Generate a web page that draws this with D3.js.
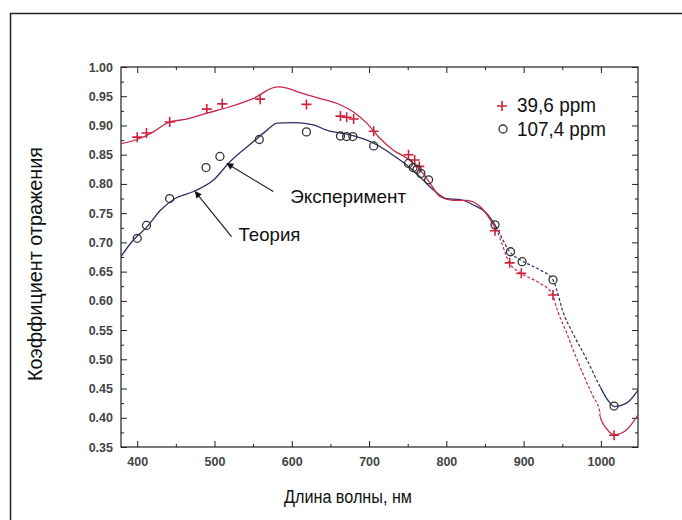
<!DOCTYPE html>
<html>
<head>
<meta charset="utf-8">
<script src="https://cdn.jsdelivr.net/npm/d3@7"></script>
<style>
  body { margin: 0; background: #fff; }
  svg { display: block; font-family: "Liberation Sans", Arial, sans-serif; }
</style>
</head>
<body>
<svg id="chart" width="682" height="520"></svg>
<script>
// Theory curve, 39,6 ppm (red).
const theoryWl39 = [379, 400, 421, 440, 464, 490, 520, 550, 581, 594, 611, 637, 663, 682, 697, 714, 731, 749, 766, 779, 792, 809, 826, 844, 861, 866, 882, 897, 921, 938, 940, 956, 973, 990, 998, 999, 1007, 1018, 1033, 1048];
const theoryR39 = [0.869, 0.876, 0.889, 0.905, 0.911, 0.921, 0.932, 0.946, 0.966, 0.964, 0.956, 0.946, 0.935, 0.921, 0.904, 0.878, 0.858, 0.844, 0.824, 0.801, 0.778, 0.772, 0.772, 0.761, 0.73, 0.718, 0.664, 0.647, 0.630, 0.610, 0.600, 0.544, 0.487, 0.436, 0.413, 0.402, 0.382, 0.371, 0.379, 0.405];

// Theory curve, 107,4 ppm (dark blue).
const theoryWl107 = [379, 395, 413, 430, 449, 473, 499, 520, 550, 568, 581, 602, 628, 645, 675, 697, 714, 731, 749, 766, 783, 800, 818, 835, 852, 863, 882, 900, 921, 938, 943, 950, 964, 982, 999, 1009, 1018, 1033, 1048];
const theoryR107 = [0.676, 0.704, 0.727, 0.755, 0.775, 0.787, 0.807, 0.838, 0.872, 0.892, 0.904, 0.905, 0.901, 0.892, 0.884, 0.875, 0.864, 0.849, 0.832, 0.812, 0.790, 0.775, 0.773, 0.764, 0.750, 0.730, 0.684, 0.667, 0.653, 0.636, 0.618, 0.585, 0.544, 0.499, 0.453, 0.430, 0.419, 0.425, 0.447];

// Experiment points.
const expWl39 = [400, 412, 442, 490, 510, 559, 619, 663, 671, 680, 706, 751, 759, 765, 863, 882, 897, 938, 1017];
const expR39 = [0.880, 0.887, 0.906, 0.928, 0.937, 0.945, 0.936, 0.916, 0.914, 0.911, 0.890, 0.850, 0.841, 0.830, 0.720, 0.665, 0.647, 0.610, 0.370];
const expWl107 = [400, 412, 442, 489, 507, 558, 619, 663, 671, 679, 706, 751, 757, 762, 767, 777, 863, 883, 898, 938, 1017];
const expR107 = [0.707, 0.729, 0.775, 0.828, 0.847, 0.876, 0.889, 0.882, 0.881, 0.881, 0.865, 0.835, 0.828, 0.825, 0.818, 0.807, 0.730, 0.684, 0.667, 0.636, 0.420];

// Ticks and labels.
const xTicks = [400, 500, 600, 700, 800, 900, 1000];
const xMinorTicks = [450, 550, 650, 750, 850, 950];
const yTicks = [0.35, 0.40, 0.45, 0.50, 0.55, 0.60, 0.65, 0.70, 0.75, 0.80, 0.85, 0.90, 0.95, 1.00];
const yMinorTicks = [0.375, 0.425, 0.475, 0.525, 0.575, 0.625, 0.675, 0.725, 0.775, 0.825, 0.875, 0.925, 0.975];
const seriesNames = ["39,6 ppm", "107,4 ppm"];
const xTitle = "Длина волны, нм";
const yTitle = "Коэффициент отражения";

(function () {
  const svg = d3.select("#chart");
  const left = 121, right = 638, top = 67, bottom = 447;

  const x = d3.scaleLinear().domain([379, 1048]).range([left, right]);
  const y = d3.scaleLinear().domain([0.35, 1.0]).range([bottom, top]);

  // Outer frame of the figure.
  svg.append("rect")
    .attr("x", 10.5).attr("y", 13.5)
    .attr("width", 700).attr("height", 600)
    .attr("fill", "none").attr("stroke", "#222").attr("stroke-width", 1.5);

  // Axes, ticks pointing inward on all four sides.
  function styleAxis(g) {
    g.select(".domain").remove();
    g.selectAll("line").attr("stroke", "#222");
    g.selectAll("text")
      .attr("fill", "#444")
      .attr("font-size", 12.5)
      .attr("font-weight", "bold");
  }

  svg.append("g").attr("transform", `translate(0,${bottom})`)
    .call(d3.axisBottom(x).tickValues(xTicks).tickSize(-6).tickSizeOuter(0).tickPadding(10).tickFormat(d3.format("d")))
    .call(styleAxis);
  svg.append("g").attr("transform", `translate(0,${bottom})`)
    .call(d3.axisBottom(x).tickValues(xMinorTicks).tickSize(-3).tickFormat(""))
    .call(styleAxis);
  svg.append("g").attr("transform", `translate(0,${top})`)
    .call(d3.axisTop(x).tickValues(xTicks).tickSize(-6).tickFormat(""))
    .call(styleAxis);
  svg.append("g").attr("transform", `translate(0,${top})`)
    .call(d3.axisTop(x).tickValues(xMinorTicks).tickSize(-3).tickFormat(""))
    .call(styleAxis);

  svg.append("g").attr("transform", `translate(${left},0)`)
    .call(d3.axisLeft(y).tickValues(yTicks).tickSize(-6).tickPadding(8).tickFormat(d3.format(".2f")))
    .call(styleAxis);
  svg.append("g").attr("transform", `translate(${left},0)`)
    .call(d3.axisLeft(y).tickValues(yMinorTicks).tickSize(-3).tickFormat(""))
    .call(styleAxis);
  svg.append("g").attr("transform", `translate(${right},0)`)
    .call(d3.axisRight(y).tickValues(yTicks).tickSize(-6).tickFormat(""))
    .call(styleAxis);
  svg.append("g").attr("transform", `translate(${right},0)`)
    .call(d3.axisRight(y).tickValues(yMinorTicks).tickSize(-3).tickFormat(""))
    .call(styleAxis);

  svg.append("rect")
    .attr("x", left).attr("y", top)
    .attr("width", right - left).attr("height", bottom - top)
    .attr("fill", "none").attr("stroke", "#222").attr("stroke-width", 1.2);

  // Clip regions: solid part and dashed part of the theory curves.
  const defs = svg.append("defs");
  defs.append("clipPath").attr("id", "clip-solid")
    .selectAll("rect")
    .data([[379, 864], [999, 1048]])
    .join("rect")
    .attr("x", (d) => x(d[0])).attr("width", (d) => x(d[1]) - x(d[0]))
    .attr("y", top).attr("height", bottom - top);
  defs.append("clipPath").attr("id", "clip-dash")
    .append("rect")
    .attr("x", x(864)).attr("width", x(999) - x(864))
    .attr("y", top).attr("height", bottom - top);

  const line = d3.line()
    .x((d) => x(d[0]))
    .y((d) => y(d[1]))
    .curve(d3.curveMonotoneX);

  function drawCurve(wl, r, color) {
    const pts = wl.map((w, i) => [w, r[i]]);
    svg.append("path")
      .attr("d", line(pts))
      .attr("fill", "none")
      .attr("stroke", color)
      .attr("stroke-width", 1.3)
      .attr("clip-path", "url(#clip-solid)");
    svg.append("path")
      .attr("d", line(pts))
      .attr("fill", "none")
      .attr("stroke", color)
      .attr("stroke-width", 1.2)
      .attr("stroke-dasharray", "3,2")
      .attr("clip-path", "url(#clip-dash)");
  }

  drawCurve(theoryWl107, theoryR107, "#2d2f66");
  drawCurve(theoryWl39, theoryR39, "#c4284a");

  // Experiment markers.
  const plusPath = "M-5,0H5M0,-5V5";
  svg.append("g").selectAll("path")
    .data(expWl39.map((w, i) => [w, expR39[i]]))
    .join("path")
    .attr("d", plusPath)
    .attr("transform", (d) => `translate(${x(d[0])},${y(d[1])})`)
    .attr("stroke", "#d0223c")
    .attr("stroke-width", 1.6);

  svg.append("g").selectAll("circle")
    .data(expWl107.map((w, i) => [w, expR107[i]]))
    .join("circle")
    .attr("cx", (d) => x(d[0]))
    .attr("cy", (d) => y(d[1]))
    .attr("r", 4)
    .attr("fill", "none")
    .attr("stroke", "#333")
    .attr("stroke-width", 1.3);

  // Legend.
  const legend = svg.append("g").attr("transform", "translate(502,0)");
  legend.append("path").attr("d", plusPath)
    .attr("transform", "translate(0,106)")
    .attr("stroke", "#d0223c").attr("stroke-width", 1.6);
  legend.append("circle").attr("cx", 1).attr("cy", 129).attr("r", 4)
    .attr("fill", "none").attr("stroke", "#333").attr("stroke-width", 1.3);
  legend.selectAll("text")
    .data(seriesNames)
    .join("text")
    .attr("x", 15)
    .attr("y", (d, i) => 112 + i * 24)
    .attr("font-size", 21)
    .attr("textLength", (d, i) => (i === 0 ? 79 : 89))
    .attr("lengthAdjust", "spacingAndGlyphs")
    .attr("fill", "#111")
    .text((d) => d);

  // Annotations with arrows.
  defs.append("marker")
    .attr("id", "arrow")
    .attr("viewBox", "0 0 10 10")
    .attr("refX", 9).attr("refY", 5)
    .attr("markerWidth", 9).attr("markerHeight", 7)
    .attr("markerUnits", "userSpaceOnUse")
    .attr("orient", "auto")
    .append("path").attr("d", "M0,0L10,5L0,10Z").attr("fill", "#111");

  const notes = [
    { text: "Эксперимент", tx: 598, ty: 0.767, len: 116, from: [576, 0.787], to: [516, 0.835] },
    { text: "Теория", tx: 531, ty: 0.702, len: 62, from: [522, 0.710], to: [475, 0.787] },
  ];
  notes.forEach((n) => {
    svg.append("line")
      .attr("x1", x(n.from[0])).attr("y1", y(n.from[1]))
      .attr("x2", x(n.to[0])).attr("y2", y(n.to[1]))
      .attr("stroke", "#222").attr("stroke-width", 1.2)
      .attr("marker-end", "url(#arrow)");
    svg.append("text")
      .attr("x", x(n.tx)).attr("y", y(n.ty))
      .attr("font-size", 19)
      .attr("textLength", n.len)
      .attr("lengthAdjust", "spacingAndGlyphs")
      .attr("fill", "#111")
      .text(n.text);
  });

  // Axis titles.
  svg.append("text")
    .attr("x", 348).attr("y", 503)
    .attr("text-anchor", "middle")
    .attr("font-size", 19)
    .attr("textLength", 128)
    .attr("lengthAdjust", "spacingAndGlyphs")
    .attr("fill", "#111")
    .text(xTitle);
  svg.append("text")
    .attr("transform", "translate(42,264) rotate(-90)")
    .attr("text-anchor", "middle")
    .attr("font-size", 20)
    .attr("textLength", 234)
    .attr("lengthAdjust", "spacingAndGlyphs")
    .attr("fill", "#111")
    .text(yTitle);
})();
</script>
</body>
</html>
